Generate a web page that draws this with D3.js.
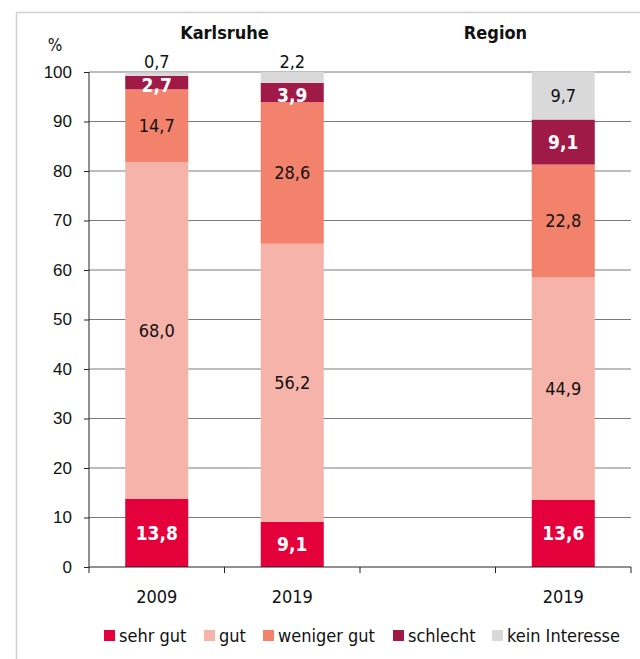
<!DOCTYPE html>
<html>
<head>
<meta charset="utf-8">
<script src="https://d3js.org/d3.v7.min.js"></script>
<style>
  body { margin: 0; background: #fff; }
  svg { font-family: "Liberation Sans Narrow", "DejaVu Sans Condensed", "Liberation Sans", sans-serif; }
</style>
</head>
<body>
<svg width="640" height="659"></svg>
<script>
const categories = ["2009", "2019 K", "", "2019 R"];
const tickLabels = ["2009", "2019", "", "2019"];
const groups = [
  { name: "Karlsruhe", from: "2009", to: "2019 K" },
  { name: "Region", from: "", to: "2019 R" }
];
const seriesNames = ["sehr gut", "gut", "weniger gut", "schlecht", "kein Interesse"];
const colors = ["#e4003a", "#f6b3a9", "#f2826b", "#a01a48", "#d9d9d9"];
const sehrGut = [13.8, 9.1, null, 13.6];
const gut = [68.0, 56.2, null, 44.9];
const wenigerGut = [14.7, 28.6, null, 22.8];
const schlecht = [2.7, 3.9, null, 9.1];
const keinInteresse = [0.7, 2.2, null, 9.7];
const yTicks = [0, 10, 20, 30, 40, 50, 60, 70, 80, 90, 100];

const series = [sehrGut, gut, wenigerGut, schlecht, keinInteresse];
const labelWhite = [true, false, false, true, false];

const svg = d3.select("svg");
const fmt = v => v.toFixed(1).replace(".", ",");

// light frame
svg.append("rect")
  .attr("x", 16.5).attr("y", 12.5)
  .attr("width", 700).attr("height", 700)
  .attr("fill", "none").attr("stroke", "#d0d0d0").attr("stroke-width", 1.5);

const x = d3.scaleBand().domain(categories).range([89, 631]).padding(0);
const y = d3.scaleLinear().domain([0, 100]).range([567, 72]);
const barW = x.bandwidth() * 0.465;

// gridlines
svg.append("g").selectAll("line").data(yTicks.filter(d => d > 0)).join("line")
  .attr("x1", 89).attr("x2", 631)
  .attr("y1", d => y(d)).attr("y2", d => y(d))
  .attr("stroke", "#7a7a7a").attr("stroke-width", 1);

// stacked bars
const rows = categories.map((c, i) => {
  const r = { cat: c };
  seriesNames.forEach((s, k) => r[s] = series[k][i] || 0);
  return r;
});
const stacked = d3.stack().keys(seriesNames)(rows);

stacked.forEach((layer, k) => {
  const g = svg.append("g");
  g.selectAll("rect").data(layer.filter(d => d[1] - d[0] > 0)).join("rect")
    .attr("x", d => x(d.data.cat) + (x.bandwidth() - barW) / 2)
    .attr("width", barW)
    .attr("y", d => y(d[1]))
    .attr("height", d => y(d[0]) - y(d[1]))
    .attr("fill", colors[k]);
});

// labels
stacked.forEach((layer, k) => {
  layer.forEach(d => {
    const v = d[1] - d[0];
    if (!(v > 0)) return;
    const cx = x(d.data.cat) + x.bandwidth() / 2;
    const outside = k === 4 && v < 3;
    const cy = outside ? y(100) - 10 : y((d[0] + d[1]) / 2);
    svg.append("text")
      .attr("x", cx).attr("y", cy + (k === 3 && v < 5 ? 3 : 0))
      .attr("dy", "0.36em")
      .attr("text-anchor", "middle")
      .style("font-size", labelWhite[k] ? "19px" : "18px")
      .style("font-weight", labelWhite[k] ? "bold" : "normal")
      .attr("fill", labelWhite[k] && !outside ? "#fff" : "#111")
      .text(fmt(v));
  });
});

// y axis
const yAxis = svg.append("g")
  .attr("transform", "translate(89,0)")
  .call(d3.axisLeft(y).tickValues(yTicks).tickSize(5).tickPadding(12));
yAxis.select(".domain").attr("stroke", "#222").attr("d", `M0,${y(100)}V${y(0)}`);
yAxis.selectAll(".tick line").attr("stroke", "#222");
yAxis.selectAll("text").style("font-size", "17px").attr("fill", "#111");

// x axis
const xAxis = svg.append("g").attr("transform", `translate(0,${y(0)})`);
xAxis.append("line").attr("x1", 89).attr("x2", 631).attr("stroke", "#222");
xAxis.selectAll(".tk").data(categories.concat(["end"])).join("line")
  .attr("x1", (d, i) => i < categories.length ? x(d) : x.range()[1])
  .attr("x2", (d, i) => i < categories.length ? x(d) : x.range()[1])
  .attr("y1", 0).attr("y2", 6).attr("stroke", "#222");
xAxis.selectAll("text").data(categories).join("text")
  .attr("x", d => x(d) + x.bandwidth() / 2)
  .attr("y", 36)
  .attr("text-anchor", "middle")
  .style("font-size", "18px").attr("fill", "#111")
  .text((d, i) => tickLabels[i]);

// titles
svg.append("text").attr("x", 55).attr("y", 51).attr("text-anchor", "middle")
  .style("font-size", "17px").attr("fill", "#111").text("%");
groups.forEach(gr => {
  const cx = (x(gr.from) + x(gr.to) + x.bandwidth()) / 2;
  svg.append("text").attr("x", cx).attr("y", 39).attr("text-anchor", "middle")
    .style("font-size", "18px").style("font-weight", "bold").attr("fill", "#111")
    .text(gr.name);
});

// legend
const legX = [104, 204, 263, 393, 492];
const legend = svg.append("g").attr("transform", "translate(0,636)");
seriesNames.forEach((s, k) => {
  legend.append("rect").attr("x", legX[k]).attr("y", -6).attr("width", 11).attr("height", 11)
    .attr("fill", colors[k]);
  legend.append("text").attr("x", legX[k] + 15).attr("y", 0).attr("dy", "0.36em")
    .style("font-size", "18px").attr("fill", "#111").text(s);
});
</script>
</body>
</html>
